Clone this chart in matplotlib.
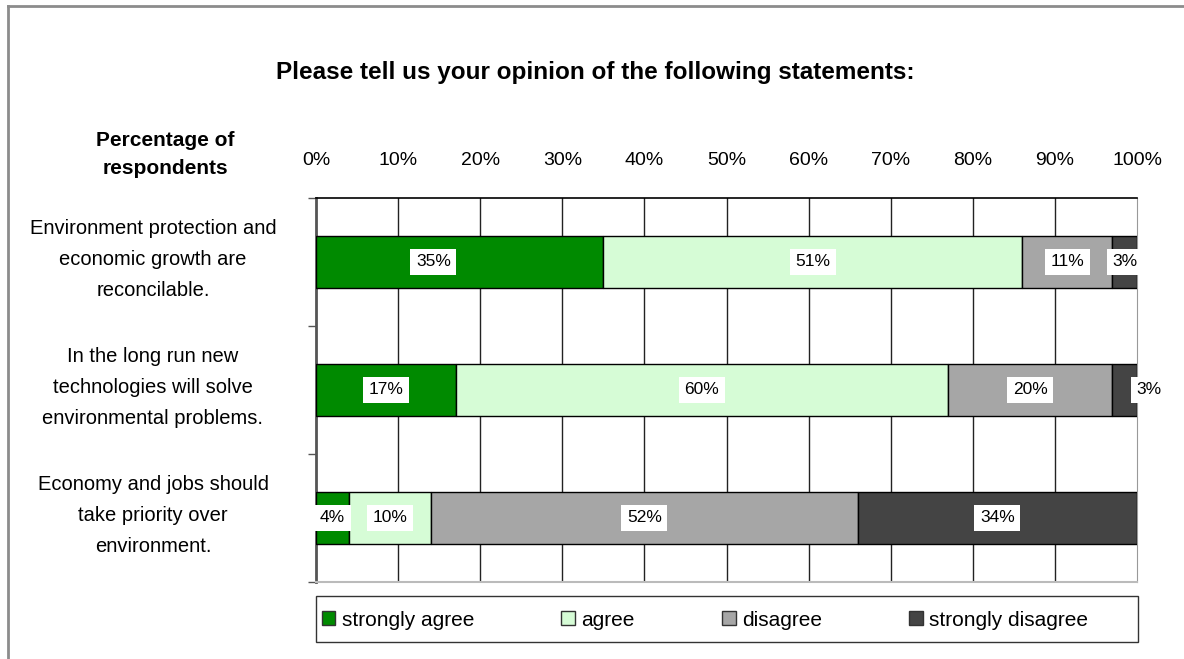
import matplotlib.pyplot as plt
import matplotlib.transforms as mtransforms
from matplotlib.patches import Patch
from matplotlib.lines import Line2D

plt.rcParams['font.family'] = ['Liberation Sans', 'DejaVu Sans']

# survey answers, one list per answer, in statement order
statements = ['Environment protection and\neconomic growth are\nreconcilable.',
              'In the long run new\ntechnologies will solve\nenvironmental problems.',
              'Economy and jobs should\ntake priority over\nenvironment.']
answers = ['strongly agree', 'agree', 'disagree', 'strongly disagree']
strongly_agree = [35, 17, 4]
agree = [51, 60, 10]
disagree = [11, 20, 52]
strongly_disagree = [3, 3, 34]
xticks = [0, 10, 20, 30, 40, 50, 60, 70, 80, 90, 100]

colors = ['#008a00', '#d6fcd6', '#a6a6a6', '#444444']
series = [strongly_agree, agree, disagree, strongly_disagree]
# nudges for labels that sit off-centre in their segment
label_dx = [[-3.2, 0, 0, 0], [0, 0, 0, 3.0], [0, 0, 0, 0]]

fig = plt.figure(figsize=(11.84, 6.59), dpi=100)
W, H = 1184, 659
ax = fig.add_axes([316 / W, 1 - 582 / H, (1137 - 316) / W, (582 - 198) / H])

rows = list(range(len(statements)))
left = [0] * len(rows)
for i, (vals, c) in enumerate(zip(series, colors)):
    ax.barh(rows, vals, left=left, height=0.4, color=c, edgecolor='black',
            linewidth=1, label=answers[i], zorder=3)
    for r in rows:
        ax.text(left[r] + vals[r] / 2 + label_dx[r][i], r, f'{vals[r]}%',
                ha='center', va='center', fontsize=12.5, zorder=5,
                bbox=dict(boxstyle='square,pad=0.32', facecolor='white',
                          edgecolor='none'))
    left = [l + v for l, v in zip(left, vals)]

ax.set_xlim(0, 100)
ax.set_ylim(2.5, -0.5)
ax.xaxis.tick_top()
ax.set_xticks(xticks)
ax.set_xticklabels([f'{t}%' for t in xticks], fontsize=14)
ax.tick_params(axis='x', length=0, pad=21)
ax.set_yticks([-0.5, 0.5, 1.5, 2.5])
ax.set_yticklabels([])
ax.tick_params(axis='y', length=6, color='#555555', width=1)

for t in xticks[1:-1]:
    ax.axvline(t, color='#222222', linewidth=1, zorder=1)
ax.spines['top'].set_color('black')
ax.spines['top'].set_linewidth(1.2)
ax.spines['left'].set_color('#555555')
ax.spines['left'].set_linewidth(2)
ax.spines['right'].set_color('#999999')
ax.spines['bottom'].set_color('#bbbbbb')
ax.spines['bottom'].set_linewidth(1.5)

# statement labels to the left of the bars
trans = mtransforms.blended_transform_factory(fig.transFigure, ax.transData)
for r, s in zip(rows, statements):
    ax.text(153 / W, r - 0.02, s, transform=trans, ha='center', va='center',
            multialignment='center', fontsize=14.5, linespacing=1.8)

fig.text(595 / W, 1 - 72 / H, 'Please tell us your opinion of the following statements:',
         ha='center', va='center', fontsize=17.5, fontweight='bold')
fig.text(165 / W, 1 - 154 / H, 'Percentage of\nrespondents', ha='center',
         va='center', fontsize=15, fontweight='bold', linespacing=1.6)

# legend box under the chart
fig.add_artist(plt.Rectangle((316 / W, 1 - 642 / H), (1138 - 316) / W, 46 / H,
                             transform=fig.transFigure, fill=False,
                             edgecolor='#333333', linewidth=1))
handles = [Patch(facecolor=c, edgecolor='#333333', label=a) for c, a in zip(colors, answers)]
fig.legend(handles=handles, loc='center', bbox_to_anchor=(705 / W, 1 - 620 / H),
           ncol=4, frameon=False, fontsize=15, handlelength=0.65,
           handleheight=0.65, handletextpad=0.3, columnspacing=4.2)

# outer frame
fig.add_artist(Line2D([8 / W, 8 / W], [0, 1 - 6 / H], transform=fig.transFigure,
                      color='#8c8c8c', linewidth=2))
fig.add_artist(Line2D([8 / W, 1], [1 - 6 / H, 1 - 6 / H], transform=fig.transFigure,
                      color='#8c8c8c', linewidth=2))

fig.savefig('out.png', dpi=100, facecolor='white')
